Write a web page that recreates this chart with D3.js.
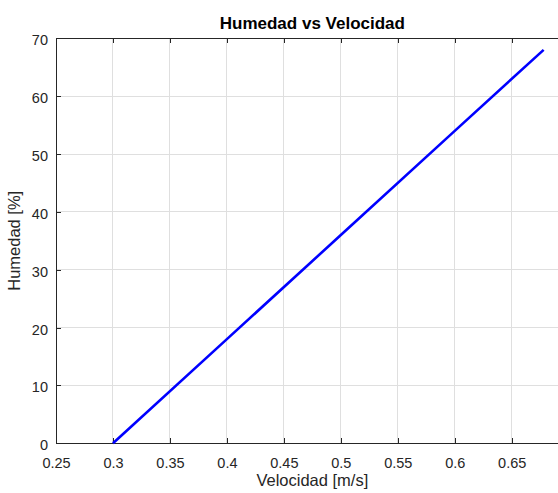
<!DOCTYPE html>
<html><head><meta charset="utf-8">
<script src="https://cdn.jsdelivr.net/npm/d3@7"></script>
<style>body{margin:0;background:#fff;}svg{display:block;font-family:"Liberation Sans",Arial,sans-serif;}</style>
</head><body>
<script>
const velocidad = [0.3, 0.4, 0.5, 0.6, 0.678];
const humedad = [0, 18, 36, 54, 68];
const xTicks = [0.25, 0.3, 0.35, 0.4, 0.45, 0.5, 0.55, 0.6, 0.65, 0.7];
const yTicks = [0, 10, 20, 30, 40, 50, 60, 70];
const title = "Humedad vs Velocidad";
const xLabel = "Velocidad [m/s]";
const yLabel = "Humedad [%]";

const W = 558, H = 493;
const L = 56, R = 568.7, T = 38.3, B = 443.3;
const svg = d3.select("body").append("svg").attr("width", W).attr("height", H);
const x = d3.scaleLinear().domain([0.25, 0.7]).range([L, R]);
const y = d3.scaleLinear().domain([0, 70]).range([B, T]);
const axisColor = "#262626";

// grid
const g = svg.append("g");
g.selectAll(".gx").data(xTicks).join("line")
  .attr("x1", d => x(d)).attr("x2", d => x(d)).attr("y1", T).attr("y2", B)
  .attr("stroke", "#dfdfdf").attr("stroke-width", 1).attr("shape-rendering","crispEdges");
g.selectAll(".gy").data(yTicks).join("line")
  .attr("y1", d => y(d)).attr("y2", d => y(d)).attr("x1", L).attr("x2", R)
  .attr("stroke", "#dfdfdf").attr("stroke-width", 1).attr("shape-rendering","crispEdges");

// axes
const xAxis = d3.axisBottom(x).tickValues(xTicks.filter(d => d < 0.69)).tickSizeInner(-5).tickSizeOuter(0).tickPadding(14).tickFormat(d3.format("~g"));
const xAxisTop = d3.axisTop(x).tickValues(xTicks.filter(d => d < 0.69)).tickSizeInner(-5).tickSizeOuter(0).tickFormat("");
const yAxis = d3.axisLeft(y).tickValues(yTicks).tickSizeInner(-5).tickSizeOuter(0).tickPadding(8);

function style(sel){
  sel.selectAll("path").attr("stroke", axisColor).attr("stroke-width", 1).attr("shape-rendering","crispEdges");
  sel.selectAll("line").attr("stroke", axisColor).attr("shape-rendering","crispEdges");
  sel.selectAll("text").attr("fill", "#262626").style("font-size", "14.5px").style("font-family", '"Liberation Sans",Arial,sans-serif');
}
svg.append("g").attr("transform", `translate(0,${B})`).call(xAxis).call(style);
svg.append("g").attr("transform", `translate(0,${T})`).call(xAxisTop).call(style);
svg.append("g").attr("transform", `translate(${L},0)`).call(yAxis).call(style)
  .selectAll("text").attr("dy", "0.45em");

// line
const line = d3.line().x((d, i) => x(velocidad[i])).y((d, i) => y(humedad[i]));
svg.append("path").datum(humedad).attr("d", line)
  .attr("fill", "none").attr("stroke", "#0000ff").attr("stroke-width", 2.6);

// labels
svg.append("text").attr("x", (L + R) / 2).attr("y", 29).attr("text-anchor", "middle")
  .style("font-size", "17px").style("font-weight", "bold").attr("fill", "#000").text(title);
svg.append("text").attr("x", (L + R) / 2).attr("y", 486).attr("text-anchor", "middle")
  .style("font-size", "16.5px").attr("fill", "#262626").text(xLabel);
svg.append("text").attr("transform", `translate(20,${(T + B) / 2}) rotate(-90)`).attr("text-anchor", "middle")
  .style("font-size", "16.5px").attr("fill", "#262626").text(yLabel);
</script>
</body></html>
